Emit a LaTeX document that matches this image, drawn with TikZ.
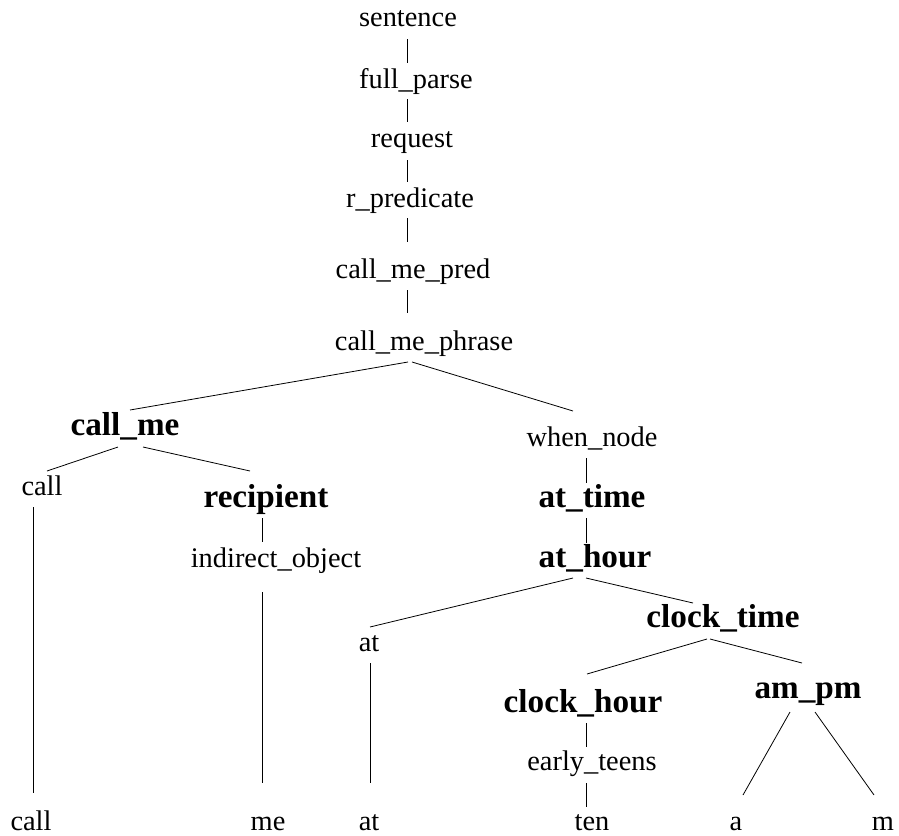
\documentclass[tikz,border=0pt]{standalone}
\usepackage{fontspec}
\setmainfont{Liberation Serif}
\usetikzlibrary{calc}

\tikzset{
  word/.style={font=\fontsize{28.4}{32}\selectfont, anchor=base, inner sep=0pt},
  cat/.style={font=\fontsize{33.2}{38}\selectfont\bfseries, anchor=base, inner sep=0pt},
  edge/.style={draw=black, line width=0.8pt}
}
% branch between two nodes, each end offset from the node's base point
\newcommand\treeedge[4]{\draw[edge] ($(#1.base)+(#2)$) -- ($(#3.base)+(#4)$);}

\begin{document}
\begin{tikzpicture}[x=1pt,y=-1pt]
\useasboundingbox (0,0) rectangle (899,835);

% spine
\node[word] (sentence)  at (408,27)  {sentence};
\node[word] (fullparse) at (416,88)  {full\_parse};
\node[word] (request)   at (412,147) {request};
\node[word] (rpred)     at (410,207) {r\_predicate};
\node[word] (cmpred)    at (413,278) {call\_me\_pred};
\node[word] (cmphrase)  at (424,350) {call\_me\_phrase};

% left branch
\node[cat]  (callme)    at (125,435) {call\_me};
\node[word] (callw)     at (42,495)  {call};
\node[cat]  (recipient) at (266,507) {recipient};
\node[word] (indobj)    at (276,567) {indirect\_object};

% right branch
\node[word] (whennode)  at (592,446) {when\_node};
\node[cat]  (attime)    at (592,507) {at\_time};
\node[cat]  (athour)    at (595,567) {at\_hour};
\node[word] (atw)       at (369,651) {at};
\node[cat]  (clocktime) at (723,627) {clock\_time};
\node[cat]  (clockhour) at (583,712) {clock\_hour};
\node[cat]  (ampm)      at (808,698) {am\_pm};
\node[word] (earlyteens) at (592,770) {early\_teens};

% leaves
\node[word] (lcall) at (31,830)  {call};
\node[word] (lme)   at (268,830) {me};
\node[word] (lat)   at (369,830) {at};
\node[word] (lten)  at (592,830) {ten};
\node[word] (la)    at (736,830) {a};
\node[word] (lm)    at (883,830) {m};

% branches
\treeedge{sentence}{-1,12}{fullparse}{-9,-25}
\treeedge{fullparse}{-9,11}{request}{-5,-25}
\treeedge{request}{-5,13}{rpred}{-3,-25}
\treeedge{rpred}{-3,11}{cmpred}{-6,-36}
\treeedge{cmpred}{-6,12}{cmphrase}{-17,-37}
\treeedge{cmphrase}{-16,12}{callme}{5,-25}
\treeedge{cmphrase}{-12,12}{whennode}{-19,-35}
\treeedge{callme}{-7,12}{callw}{5,-24}
\treeedge{callme}{18,12}{recipient}{-16,-36}
\treeedge{callw}{-9,12}{lcall}{2,-37}
\treeedge{recipient}{-4,11}{indobj}{-14,-25}
\treeedge{indobj}{-14,25}{lme}{-6,-47}
\treeedge{whennode}{-6,12}{attime}{-6,-24}
\treeedge{attime}{-6,11}{athour}{-9,-24}
\treeedge{athour}{-22,11}{atw}{1,-24}
\treeedge{athour}{-9,11}{clocktime}{-30,-24}
\treeedge{atw}{1,12}{lat}{1,-47}
\treeedge{clocktime}{-16,12}{clockhour}{4,-38}
\treeedge{clocktime}{-13,12}{ampm}{-6,-35}
\treeedge{clockhour}{3,11}{earlyteens}{-6,-23}
\treeedge{earlyteens}{-6,13}{lten}{-6,-23}
\treeedge{ampm}{-18,14}{la}{7,-35}
\treeedge{ampm}{7,14}{lm}{-9,-35}
\end{tikzpicture}
\end{document}
